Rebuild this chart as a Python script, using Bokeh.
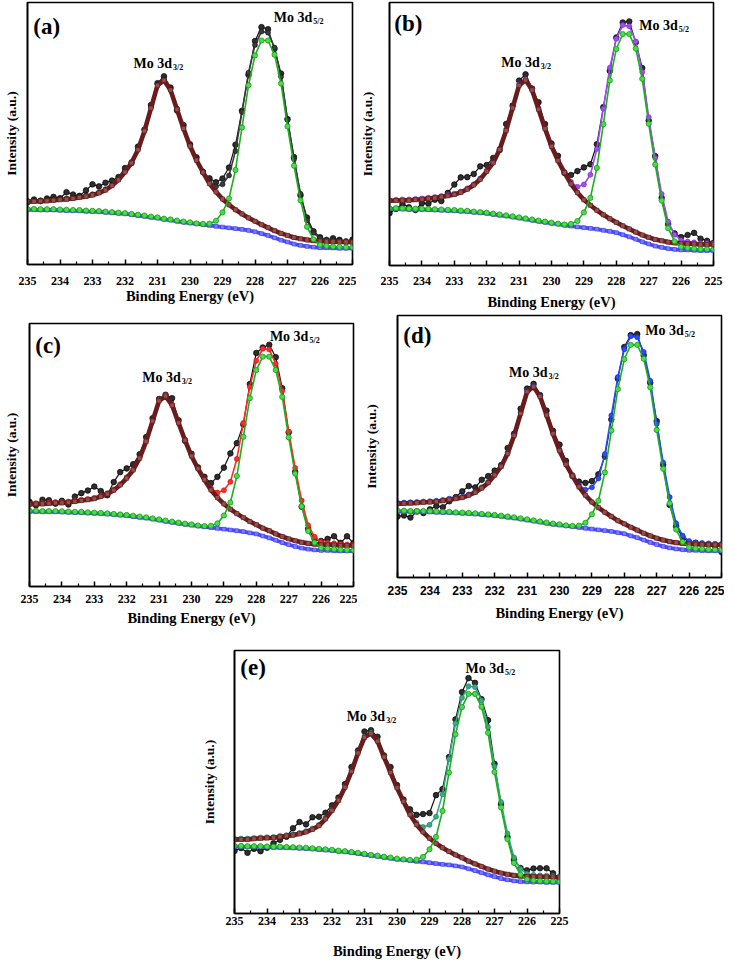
from bokeh.plotting import figure
from bokeh.layouts import column, row
from bokeh.models import Range1d, Label, FixedTicker, Spacer
from bokeh.embed import file_html
from bokeh.resources import INLINE

# ---------------- data (y in % of plot height) ----------------
energy = [235.0, 234.8, 234.6, 234.4, 234.2, 234.0, 233.8, 233.6, 233.4, 233.2, 233.0,
          232.8, 232.6, 232.4, 232.2, 232.0, 231.8, 231.6, 231.4, 231.2, 231.0,
          230.8, 230.6, 230.4, 230.2, 230.0, 229.8, 229.6, 229.4, 229.2, 229.0,
          228.8, 228.6, 228.4, 228.2, 228.0, 227.8, 227.6, 227.4, 227.2, 227.0,
          226.8, 226.6, 226.4, 226.2, 226.0, 225.8, 225.6, 225.4, 225.2, 225.0]

xticks = [235, 234, 233, 232, 231, 230, 229, 228, 227, 226, 225]
xminor = [234.5, 233.5, 232.5, 231.5, 230.5, 229.5, 228.5, 227.5, 226.5, 225.5]
panel_tags = ["(a)", "(b)", "(c)", "(d)", "(e)"]
peak_main = "Mo 3d"
peak_subs = ["3/2", "5/2"]
x_title = "Binding Energy (eV)"
y_title = "Intensity (a.u.)"

# panel (a)
raw_a = [23.8, 24.8, 24.2, 25.2, 25.8, 25.3, 27.6, 26.7, 26.2, 28.3, 30.6, 29.8, 31.2, 32.0, 33.4, 36.8, 38.7, 45.0, 51.5, 60.9, 69.2, 71.8, 67.5, 58.8, 53.2, 45.9, 40.9, 35.3, 32.9, 31.4, 32.8, 37.0, 45.7, 58.7, 72.4, 85.3, 90.6, 89.8, 82.3, 72.9, 55.5, 41.0, 26.4, 17.9, 12.7, 10.4, 9.3, 10.0, 9.4, 8.6, 9.5]
fit_a = [24.3, 24.4, 24.5, 24.6, 24.8, 25.0, 25.2, 25.5, 25.9, 26.3, 26.8, 27.6, 28.7, 30.4, 32.6, 35.6, 39.1, 44.1, 51.3, 60.0, 68.7, 70.6, 66.9, 59.5, 52.2, 45.5, 40.0, 35.5, 31.6, 29.8, 30.6, 34.0, 43.3, 58.2, 73.2, 83.8, 88.9, 88.5, 82.8, 71.7, 55.2, 40.2, 27.0, 16.9, 12.1, 10.0, 9.5, 9.3, 9.1, 9.0, 8.9]
p32_a = [24.0, 24.1, 24.2, 24.3, 24.5, 24.7, 24.9, 25.2, 25.6, 26.0, 26.5, 27.3, 28.4, 30.1, 32.3, 35.3, 38.8, 43.8, 51.0, 59.7, 68.4, 70.3, 66.6, 59.2, 51.9, 45.2, 39.8, 35.2, 30.9, 27.7, 25.0, 22.8, 20.9, 19.3, 17.8, 16.5, 15.2, 14.1, 12.9, 11.9, 11.1, 10.3, 9.8, 9.4, 9.1, 8.9, 8.8, 8.7, 8.6, 8.6, 8.5]
p52_a = [21.2, 21.2, 21.1, 21.1, 21.1, 21.0, 20.9, 20.8, 20.8, 20.6, 20.5, 20.4, 20.2, 20.0, 19.8, 19.6, 19.3, 19.0, 18.7, 18.3, 18.0, 17.5, 17.2, 16.8, 16.4, 16.1, 15.7, 15.5, 15.6, 16.7, 19.9, 25.2, 36.1, 52.3, 68.4, 79.8, 85.5, 85.5, 80.1, 69.1, 52.7, 37.7, 24.5, 14.4, 9.6, 7.5, 7.1, 6.9, 6.7, 6.6, 6.6]
bg_a = [20.9, 20.9, 20.8, 20.8, 20.8, 20.7, 20.6, 20.5, 20.5, 20.3, 20.2, 20.1, 19.9, 19.7, 19.5, 19.3, 19.0, 18.7, 18.4, 18.0, 17.7, 17.2, 16.9, 16.5, 16.1, 15.8, 15.5, 15.2, 14.9, 14.6, 14.3, 14.0, 13.7, 13.4, 13.0, 12.5, 11.8, 11.1, 10.2, 9.3, 8.6, 7.8, 7.3, 6.9, 6.6, 6.4, 6.4, 6.3, 6.2, 6.2, 6.2]

# panel (b)
raw_b = [19.9, 21.5, 23.5, 22.1, 21.1, 23.7, 23.5, 25.0, 24.5, 27.6, 30.8, 33.5, 33.6, 34.8, 37.7, 38.2, 40.9, 43.9, 53.8, 60.8, 70.3, 72.7, 67.3, 62.1, 53.8, 46.4, 41.7, 35.2, 34.4, 35.9, 37.3, 38.5, 46.1, 60.2, 74.0, 86.7, 92.4, 92.8, 84.8, 75.1, 55.1, 41.6, 25.7, 15.7, 12.2, 10.8, 11.6, 12.4, 10.2, 9.4, 8.6]
fit_b = [24.9, 25.0, 25.1, 25.1, 25.3, 25.5, 25.8, 26.0, 26.4, 26.8, 27.3, 28.1, 29.3, 30.9, 33.1, 36.1, 39.4, 44.4, 51.6, 60.2, 68.8, 70.8, 67.0, 59.7, 52.3, 45.6, 40.1, 35.6, 31.8, 29.9, 30.8, 34.5, 44.3, 59.6, 75.2, 86.2, 91.4, 91.0, 85.2, 73.6, 56.4, 40.9, 27.2, 16.7, 11.7, 9.6, 9.1, 8.8, 8.5, 8.5, 8.4]
p32_b = [24.6, 24.7, 24.8, 24.8, 25.0, 25.2, 25.5, 25.7, 26.1, 26.5, 27.0, 27.8, 29.0, 30.6, 32.8, 35.8, 39.1, 44.1, 51.3, 59.9, 68.5, 70.5, 66.7, 59.4, 52.0, 45.3, 39.9, 35.3, 31.0, 27.7, 25.0, 22.9, 21.0, 19.3, 17.8, 16.4, 15.1, 13.9, 12.7, 11.6, 10.7, 9.9, 9.4, 8.9, 8.6, 8.4, 8.3, 8.2, 8.0, 8.0, 8.0]
p52_b = [21.8, 21.8, 21.7, 21.6, 21.6, 21.6, 21.5, 21.4, 21.3, 21.2, 21.1, 20.9, 20.8, 20.5, 20.3, 20.1, 19.7, 19.4, 19.1, 18.7, 18.3, 17.9, 17.5, 17.1, 16.7, 16.3, 15.9, 15.6, 15.8, 16.9, 20.2, 25.7, 37.1, 53.7, 70.4, 82.3, 88.0, 88.0, 82.5, 71.0, 53.9, 38.4, 24.7, 14.2, 9.2, 7.1, 6.7, 6.4, 6.2, 6.2, 6.1]
bg_b = [21.5, 21.5, 21.4, 21.3, 21.3, 21.3, 21.2, 21.1, 21.0, 20.9, 20.8, 20.6, 20.5, 20.2, 20.0, 19.8, 19.4, 19.1, 18.8, 18.4, 18.0, 17.6, 17.2, 16.8, 16.4, 16.0, 15.7, 15.3, 15.0, 14.7, 14.4, 14.1, 13.8, 13.4, 13.0, 12.5, 11.7, 10.9, 10.0, 9.0, 8.2, 7.4, 6.9, 6.4, 6.1, 5.9, 5.9, 5.8, 5.7, 5.7, 5.7]

# panel (c)
raw_c = [32.2, 30.9, 33.0, 32.8, 31.5, 32.6, 31.2, 34.2, 35.5, 36.5, 38.0, 36.3, 34.7, 39.7, 43.5, 44.9, 46.5, 50.3, 56.8, 64.0, 71.3, 72.9, 71.6, 63.2, 55.4, 50.5, 45.3, 41.7, 39.3, 41.7, 45.2, 50.6, 54.5, 61.6, 77.0, 88.8, 90.9, 91.9, 87.2, 75.4, 58.6, 43.6, 30.3, 21.9, 18.0, 17.3, 18.1, 19.1, 16.6, 19.1, 16.5]
fit_c = [31.6, 31.7, 31.7, 31.9, 32.1, 32.1, 32.3, 32.6, 33.0, 33.3, 33.7, 34.5, 35.5, 36.9, 38.9, 41.5, 44.6, 49.1, 55.5, 63.2, 70.9, 72.7, 69.2, 62.5, 55.9, 49.9, 45.0, 40.9, 37.4, 35.7, 36.6, 39.8, 48.5, 62.2, 75.9, 85.8, 90.4, 90.1, 84.7, 74.4, 58.9, 45.1, 32.7, 23.3, 18.9, 16.9, 16.6, 16.4, 16.1, 16.0, 15.9]
p32_c = [31.3, 31.4, 31.4, 31.6, 31.8, 31.8, 32.0, 32.3, 32.7, 33.0, 33.4, 34.2, 35.2, 36.6, 38.6, 41.2, 44.3, 48.8, 55.2, 62.9, 70.6, 72.4, 68.9, 62.2, 55.6, 49.6, 44.8, 40.6, 36.7, 33.8, 31.4, 29.4, 27.7, 26.2, 24.7, 23.5, 22.2, 21.2, 20.0, 19.0, 18.1, 17.4, 16.8, 16.4, 16.1, 15.9, 15.9, 15.8, 15.6, 15.6, 15.6]
p52_c = [28.8, 28.8, 28.7, 28.7, 28.7, 28.6, 28.5, 28.4, 28.4, 28.2, 28.1, 28.0, 27.8, 27.6, 27.4, 27.2, 26.9, 26.6, 26.3, 25.9, 25.5, 25.1, 24.7, 24.3, 23.9, 23.6, 23.2, 23.0, 23.1, 24.0, 27.0, 31.9, 42.0, 56.9, 71.6, 82.3, 87.4, 87.4, 82.3, 72.1, 56.7, 42.9, 30.5, 21.1, 16.7, 14.7, 14.4, 14.2, 14.0, 13.9, 13.8]
bg_c = [28.5, 28.5, 28.4, 28.4, 28.4, 28.3, 28.2, 28.1, 28.1, 27.9, 27.8, 27.7, 27.5, 27.3, 27.1, 26.9, 26.6, 26.3, 26.0, 25.6, 25.2, 24.8, 24.4, 24.0, 23.6, 23.3, 23.0, 22.7, 22.4, 22.1, 21.8, 21.5, 21.2, 20.9, 20.4, 20.0, 19.2, 18.5, 17.6, 16.7, 15.9, 15.2, 14.6, 14.2, 13.9, 13.7, 13.7, 13.6, 13.5, 13.5, 13.5]

# panel (d)
raw_d = [23.3, 23.7, 22.9, 25.2, 24.6, 26.0, 27.3, 26.8, 29.1, 30.7, 32.9, 34.9, 34.4, 37.3, 38.7, 40.8, 42.9, 49.4, 54.9, 64.4, 72.1, 73.9, 69.6, 63.7, 56.0, 50.7, 44.5, 38.7, 36.6, 36.1, 36.8, 39.4, 46.2, 60.3, 75.9, 88.0, 92.5, 92.9, 84.8, 74.3, 59.7, 43.0, 27.7, 19.5, 15.3, 13.4, 13.2, 12.8, 12.7, 12.0, 9.7]
fit_d = [28.5, 28.6, 28.7, 28.8, 29.0, 29.1, 29.3, 29.6, 30.1, 30.4, 30.8, 31.7, 32.8, 34.4, 36.5, 39.4, 42.7, 47.6, 54.5, 62.9, 71.2, 73.1, 69.4, 62.3, 55.2, 48.7, 43.4, 39.1, 35.3, 33.5, 34.4, 37.8, 47.1, 61.8, 76.5, 87.1, 92.1, 91.7, 86.1, 75.1, 58.7, 43.9, 30.7, 20.7, 16.0, 13.9, 13.4, 13.2, 13.0, 12.9, 12.8]
p32_d = [28.2, 28.3, 28.4, 28.5, 28.7, 28.8, 29.0, 29.3, 29.8, 30.1, 30.5, 31.4, 32.5, 34.1, 36.2, 39.1, 42.4, 47.3, 54.2, 62.6, 70.9, 72.8, 69.1, 62.0, 54.9, 48.4, 43.2, 38.8, 34.6, 31.4, 28.8, 26.7, 24.9, 23.3, 21.7, 20.5, 19.2, 18.1, 16.9, 15.9, 15.0, 14.3, 13.7, 13.3, 13.0, 12.8, 12.7, 12.6, 12.5, 12.5, 12.4]
p52_d = [25.5, 25.5, 25.4, 25.4, 25.4, 25.3, 25.2, 25.1, 25.1, 24.9, 24.8, 24.7, 24.5, 24.3, 24.1, 23.9, 23.6, 23.3, 23.0, 22.6, 22.2, 21.8, 21.4, 21.0, 20.6, 20.3, 19.9, 19.7, 19.8, 20.9, 24.1, 29.3, 40.1, 56.1, 71.9, 83.3, 88.8, 88.8, 83.5, 72.6, 56.3, 41.5, 28.3, 18.3, 13.6, 11.5, 11.1, 10.9, 10.7, 10.6, 10.6]
bg_d = [25.2, 25.2, 25.1, 25.1, 25.1, 25.0, 24.9, 24.8, 24.8, 24.6, 24.5, 24.4, 24.2, 24.0, 23.8, 23.6, 23.3, 23.0, 22.7, 22.3, 21.9, 21.5, 21.1, 20.7, 20.3, 20.0, 19.7, 19.4, 19.1, 18.8, 18.5, 18.2, 17.9, 17.6, 17.1, 16.7, 15.9, 15.2, 14.3, 13.4, 12.6, 11.9, 11.3, 10.9, 10.6, 10.4, 10.4, 10.3, 10.2, 10.2, 10.2]

# panel (e)
raw_e = [23.8, 24.9, 23.1, 24.6, 23.7, 25.0, 26.7, 28.0, 29.2, 32.4, 34.8, 33.9, 36.6, 36.8, 38.3, 41.1, 44.1, 49.2, 55.7, 62.0, 69.2, 69.7, 67.2, 60.1, 55.7, 48.8, 43.3, 39.6, 37.5, 37.8, 38.2, 45.0, 47.3, 59.5, 73.8, 84.2, 89.5, 87.7, 81.5, 73.5, 56.9, 41.6, 29.1, 20.4, 17.3, 16.4, 17.1, 17.2, 17.2, 15.3, 13.2]
fit_e = [28.4, 28.5, 28.5, 28.7, 28.9, 29.0, 29.1, 29.5, 29.8, 30.1, 30.6, 31.3, 32.3, 33.7, 36.3, 39.5, 43.3, 48.3, 54.3, 61.3, 67.3, 68.7, 65.8, 59.8, 53.9, 48.1, 42.8, 37.9, 34.5, 32.9, 33.7, 36.8, 45.3, 58.7, 72.3, 82.0, 86.4, 86.1, 81.0, 70.9, 55.9, 42.4, 30.4, 21.3, 16.9, 15.1, 14.7, 14.5, 14.4, 14.3, 14.1]
p32_e = [28.1, 28.2, 28.2, 28.4, 28.6, 28.7, 28.8, 29.2, 29.5, 29.8, 30.3, 31.0, 32.0, 33.4, 36.0, 39.2, 43.0, 48.0, 54.0, 61.0, 67.0, 68.4, 65.5, 59.5, 53.6, 47.8, 42.6, 37.6, 33.8, 31.0, 28.6, 26.7, 25.0, 23.6, 22.3, 21.2, 19.9, 18.9, 17.9, 16.9, 16.1, 15.4, 14.9, 14.5, 14.2, 14.1, 14.0, 14.0, 13.9, 13.9, 13.8]
p52_e = [25.7, 25.7, 25.6, 25.6, 25.6, 25.5, 25.4, 25.4, 25.3, 25.2, 25.1, 25.0, 24.8, 24.6, 24.4, 24.2, 23.9, 23.7, 23.4, 23.1, 22.7, 22.3, 22.0, 21.6, 21.3, 20.9, 20.6, 20.4, 20.5, 21.5, 24.4, 29.1, 39.0, 53.6, 68.1, 78.5, 83.5, 83.5, 78.6, 68.7, 53.8, 40.3, 28.3, 19.2, 14.8, 13.0, 12.6, 12.4, 12.3, 12.2, 12.1]
bg_e = [25.4, 25.4, 25.3, 25.3, 25.3, 25.2, 25.1, 25.1, 25.0, 24.9, 24.8, 24.7, 24.5, 24.3, 24.1, 23.9, 23.6, 23.4, 23.1, 22.8, 22.4, 22.0, 21.7, 21.3, 21.0, 20.6, 20.4, 20.1, 19.8, 19.6, 19.3, 19.0, 18.7, 18.5, 18.1, 17.7, 17.0, 16.3, 15.5, 14.7, 14.0, 13.3, 12.8, 12.4, 12.1, 12.0, 11.9, 11.9, 11.8, 11.8, 11.8]

# ---------------- styling ----------------
SERIF = "Liberation Serif"
SANS = "Liberation Sans"


def make_panel(cfg, tag, raw, fit, p32, p52, bg):
    p = figure(frame_width=cfg["fw"], frame_height=cfg["fh"],
               x_range=Range1d(235, 225), y_range=Range1d(0, 100),
               output_backend="svg", toolbar_location=None,
               min_border_left=cfg["ml"], min_border_right=cfg["mr"],
               min_border_top=cfg["mt"], min_border_bottom=cfg["mb"],
               background_fill_color="white", border_fill_color="white")
    p.xgrid.visible = False
    p.ygrid.visible = False
    p.outline_line_color = "black"
    p.outline_line_width = 1.6
    p.outline_line_alpha = 1.0

    xa = p.xaxis[0]
    xa.ticker = FixedTicker(ticks=xticks, minor_ticks=xminor)
    xa.major_tick_in = 5
    xa.major_tick_out = 0
    xa.minor_tick_in = 3
    xa.minor_tick_out = 0
    xa.axis_line_width = 1.6
    xa.major_tick_line_width = 1.5
    xa.minor_tick_line_width = 1.2
    xa.major_label_text_font = cfg["tickfont"]
    xa.major_label_text_font_style = "bold"
    xa.major_label_text_font_size = "12px"
    xa.major_label_text_color = "black"
    xa.major_label_standoff = cfg["tso"]
    xa.axis_label = x_title
    xa.axis_label_text_font = SERIF
    xa.axis_label_text_font_style = "bold"
    xa.axis_label_text_font_size = "14.5px"
    xa.axis_label_text_color = "black"
    xa.axis_label_standoff = cfg["lso"]

    ya = p.yaxis[0]
    ya.ticker = FixedTicker(ticks=[])
    ya.axis_line_width = 1.6
    ya.major_tick_out = 0
    ya.major_tick_in = 0
    ya.minor_tick_out = 0
    ya.major_label_standoff = 0
    ya.axis_label = y_title
    ya.axis_label_text_font = SERIF
    ya.axis_label_text_font_style = "bold"
    ya.axis_label_text_font_size = "13.5px"
    ya.axis_label_text_color = "black"
    ya.axis_label_standoff = cfg["yso"]

    # raw data (black)
    p.line(energy, raw, line_color="#111111", line_width=1.2)
    p.scatter(energy, raw, marker="circle", size=5.6, fill_color="#2e2e2e",
              line_color="#000000", line_width=0.7)
    # envelope
    p.line(energy, fit, line_color=cfg["fitc"], line_width=1.6)
    p.scatter(energy, fit, marker="circle", size=5.0, fill_color=cfg["fitc"],
              line_color=cfg["fitl"], line_width=0.6)
    # Shirley background (blue)
    p.line(energy, bg, line_color="#4a4aff", line_width=3.8)
    p.scatter(energy, bg, marker="square", size=3.8, fill_color="#7c7cff",
              line_color="#3232e6", line_width=0.5)
    # Mo 3d3/2 component (brown)
    p.line(energy, p32, line_color="#6a1c1c", line_width=4.6)
    p.scatter(energy, p32, marker="square", size=4.2, fill_color="#93504f",
              line_color="#571212", line_width=0.5)
    # Mo 3d5/2 component (green)
    p.line(energy, p52, line_color="#1fae1f", line_width=1.6)
    p.scatter(energy, p52, marker="circle", size=5.2, fill_color="#45e045",
              line_color="#128a12", line_width=0.7)

    p.add_layout(Label(x=cfg["tag"][0], y=cfg["tag"][1], text=tag,
                       text_font=SERIF, text_font_style="bold", text_font_size="23px",
                       text_align="left", text_baseline="middle", text_color="black"))
    for (lx, ly), sub in zip([cfg["m32"], cfg["m52"]], peak_subs):
        p.add_layout(Label(x=lx, y=ly, text=peak_main, text_font=SERIF,
                           text_font_style="bold", text_font_size="14px",
                           text_align="left", text_baseline="middle", text_color="black"))
        p.add_layout(Label(x=lx, y=ly, x_offset=39.5, y_offset=-4, text=sub,
                           text_font=SERIF, text_font_style="bold", text_font_size="8px",
                           text_align="left", text_baseline="middle", text_color="black"))
    return p


cfg_a = dict(fw=325, fh=262, ml=27, mr=4, mt=2, mb=47, tickfont=SERIF, tso=12, lso=0, yso=9,
             fitc="#3a3a3a", fitl="#111111", tag=(234.82, 90.8), m32=(231.74, 76.8), m52=(227.42, 94.4))
cfg_b = dict(fw=324, fh=263, ml=30, mr=14, mt=2, mb=46, tickfont=SERIF, tso=11, lso=6, yso=15,
             fitc="#a24cf5", fitl="#7a22d0", tag=(234.85, 92.2), m32=(231.55, 77.3), m52=(227.29, 91.3))
cfg_c = dict(fw=324, fh=263, ml=29, mr=4, mt=11, mb=45, tickfont=SERIF, tso=8, lso=4, yso=11,
             fitc="#ff2a2a", fitl="#c81010", tag=(234.82, 91.6), m32=(231.52, 79.5), m52=(227.58, 95.1))
cfg_d = dict(fw=324, fh=262, ml=40, mr=3, mt=3, mb=54, tickfont=SANS, tso=8, lso=7, yso=19,
             fitc="#2a4cff", fitl="#1028c8", tag=(234.82, 92.4), m32=(231.56, 78.4), m52=(227.35, 94.2))
cfg_e = dict(fw=325, fh=263, ml=40, mr=10, mt=19, mb=44, tickfont=SERIF, tso=3, lso=15, yso=18,
             fitc="#3aa88c", fitl="#1d7a60", tag=(234.82, 93.5), m32=(231.55, 74.9), m52=(227.89, 93.3))

fa = make_panel(cfg_a, panel_tags[0], raw_a, fit_a, p32_a, p52_a, bg_a)
fb = make_panel(cfg_b, panel_tags[1], raw_b, fit_b, p32_b, p52_b, bg_b)
fc = make_panel(cfg_c, panel_tags[2], raw_c, fit_c, p32_c, p52_c, bg_c)
fd = make_panel(cfg_d, panel_tags[3], raw_d, fit_d, p32_d, p52_d, bg_d)
fe = make_panel(cfg_e, panel_tags[4], raw_e, fit_e, p32_e, p52_e, bg_e)

layout = column(row(fa, fb), row(fc, column(fd)), row(Spacer(width=194, height=10), fe))

open("out.html", "w").write(file_html(layout, INLINE))
